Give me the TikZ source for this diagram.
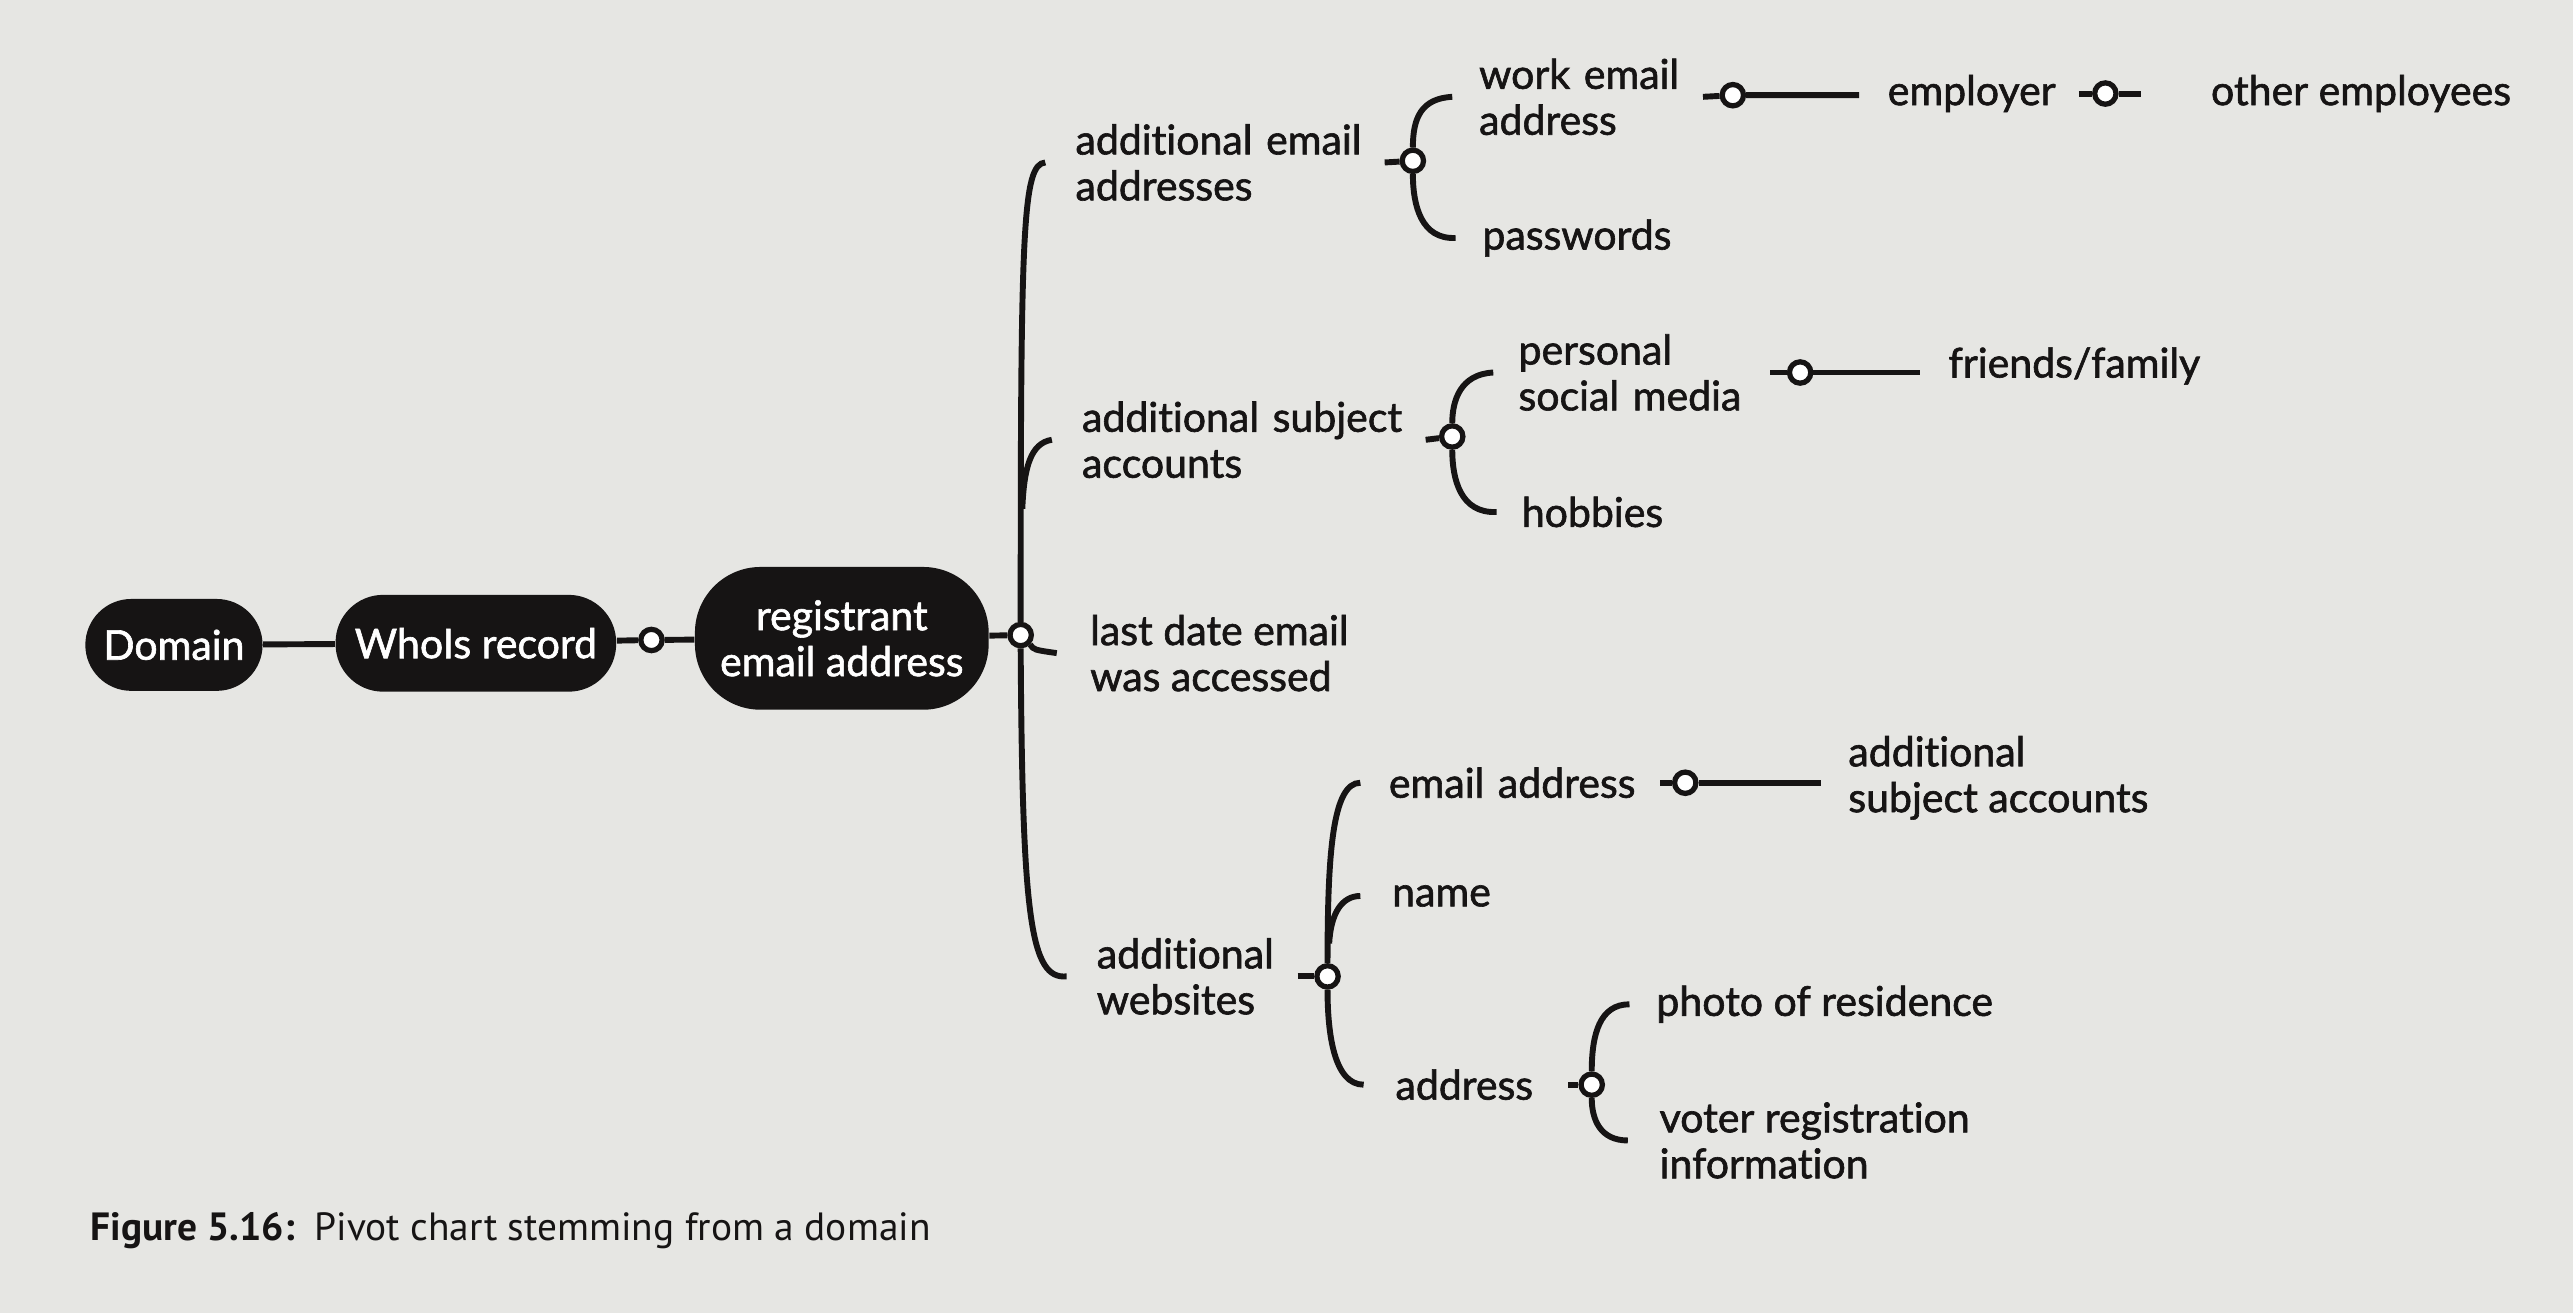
\documentclass[tikz,border=0pt]{standalone}
\usepackage{fontspec}
\setmainfont{Lato}[Ligatures=NoCommon, FakeBold=1.5]
\newfontfamily\capfont{PT Sans}
\definecolor{paper}{RGB}{230,230,227}
\definecolor{ink}{RGB}{22,20,20}
\begin{document}
\begin{tikzpicture}[x=0.5pt,y=-0.5pt,
  pill/.style={rectangle, fill=ink, text=white, align=center, inner sep=0pt, font=\fontsize{12.5}{14}\selectfont},
  lbl/.style={anchor=west, align=left, inner sep=0pt, text=ink, font=\fontsize{12.5}{14}\selectfont},
  knot/.style={circle, draw=ink, fill=white, line width=1.6pt, inner sep=0pt, minimum size=6.5pt},
  stem/.style={draw=ink, line width=1.8pt}]
\fill[paper] (0,0) rectangle (1568,800);

% chain from the domain
\node[pill, minimum width=54pt, minimum height=28pt, rounded corners=14pt] (dom) at (106,393) {Domain};
\node[pill, minimum width=85.5pt, minimum height=29.5pt, rounded corners=14.5pt] (who) at (290,392) {WhoIs record};
\node[pill, minimum width=89.5pt, minimum height=43.5pt, rounded corners=20pt] (reg) at (513,389) {registrant\\email address};

\node[knot] (k0) at (397,390) {};
\node[knot] (kR) at (622,387) {};
\node[knot] (kA) at (861,98) {};
\node[knot] (kW) at (1056,58) {};
\node[knot] (kE) at (1283,57) {};
\node[knot] (kS) at (885,266) {};
\node[knot] (kP) at (1097,227) {};
\node[knot] (kV) at (809,595) {};
\node[knot] (kM) at (1027,477) {};
\node[knot] (kD) at (970,661) {};

\node[lbl, text width=94pt] (aea) at (655,99) {additional email\\addresses};
\node[lbl, text width=68pt] (wea) at (901,59) {work email\\address};
\node[lbl] (pw) at (903,145) {passwords};
\node[lbl, text width=58pt] (emp) at (1150,57) {employer};
\node[lbl] (oth) at (1347,57) {other employees};
\node[lbl, text width=104.5pt] (asa) at (659,268) {additional subject\\accounts};
\node[lbl, text width=76.5pt] (psm) at (925,227) {personal\\social media};
\node[lbl] (hob) at (927,312) {hobbies};
\node[lbl] (ff) at (1187,223) {friends/family};
\node[lbl] (ld) at (664,398) {last date email\\was accessed};
\node[lbl, text width=61pt] (aw) at (668,595) {additional\\websites};
\node[lbl, text width=82.5pt] (ea) at (846,477) {email address};
\node[lbl] (nm) at (848,546) {name};
\node[lbl, text width=52.5pt] (ad) at (850,661) {address};
\node[lbl] (ph) at (1009,612) {photo of residence};
\node[lbl] (vr) at (1011,695) {voter registration\\information};
\node[lbl] (asc) at (1126,474) {additional\\subject accounts};

\draw[stem] (dom) -- (who);
\draw[stem] (who) -- (k0) -- (reg);
\draw[stem] (reg) -- (kR);

% main bracket
\draw[stem] (kR.north) .. controls (622,140) and (623,100) .. ([xshift=-9pt]aea.west);
\coordinate (jS) at (623,310);
\draw[stem] (jS) .. controls (624,285) and (628,270) .. ([xshift=-9pt]asa.west);
\draw[stem] (kR.south east) .. controls (630,396) .. ([xshift=-10pt]ld.west);
\draw[stem] (kR.south) .. controls (623,560) and (628,597) .. ([xshift=-9pt]aw.west);

% additional email addresses
\draw[stem] (aea.east) -- (kA);
\draw[stem] (kA.north) .. controls (861,72) and (866,60) .. ([xshift=-8pt]wea.west);
\draw[stem] (kA.south) .. controls (861,125) and (866,146) .. ([xshift=-8pt]pw.west);
\draw[stem] (wea.east) -- (kW) -- ([xshift=-8.5pt]kW -| emp.west);
\draw[stem] (emp.east) -- (kE) -- ([xshift=-21pt]kE -| oth.west);

% additional subject accounts
\draw[stem] (asa.east) -- (kS);
\draw[stem] (kS.north) .. controls (885,244) and (890,228) .. ([xshift=-7.5pt]psm.west);
\draw[stem] (kS.south) .. controls (885,292) and (890,313) .. ([xshift=-7.5pt]hob.west);
\draw[stem] (psm.east) -- (kP) -- ([xshift=-8.5pt]kP -| ff.west);

% additional websites
\draw[stem] (aw.east) -- (kV);
\draw[stem] (kV.north) .. controls (809,520) and (812,477) .. ([xshift=-8.5pt]ea.west);
\coordinate (jN) at (810,575);
\draw[stem] (jN) .. controls (811,556) and (818,546) .. ([xshift=-9.5pt]nm.west);
\draw[stem] (kV.south) .. controls (809,630) and (813,661) .. ([xshift=-9.5pt]ad.west);
\draw[stem] (ea.east) -- (kM) -- ([xshift=-8pt]kM -| asc.west);
\draw[stem] (ad.east) -- (kD);
\draw[stem] (kD.north) .. controls (970,630) and (975,612) .. ([xshift=-8pt]ph.west);
\draw[stem] (kD.south) .. controls (970,682) and (975,695) .. ([xshift=-9.5pt]vr.west);

\node[anchor=west, inner sep=0pt, text=ink, font=\capfont\fontsize{12}{14}\selectfont] (cap) at (55,750) {\textbf{Figure 5.16:}\enspace Pivot chart stemming from a domain};
\end{tikzpicture}
\end{document}
